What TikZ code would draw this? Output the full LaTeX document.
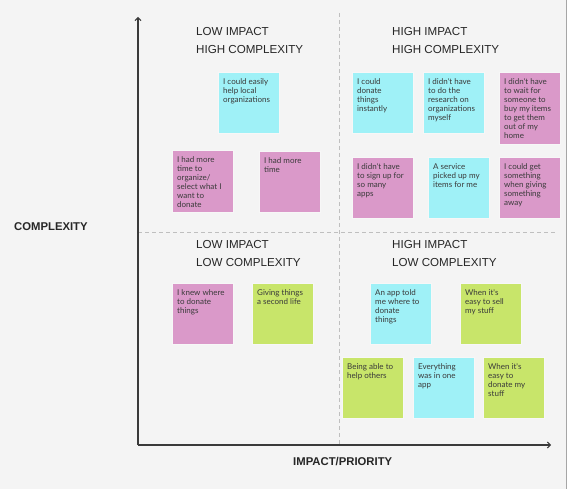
\documentclass[tikz,border=0pt]{standalone}
\usepackage{fontspec}
\setmainfont{Liberation Sans}
\newfontfamily\notefont{Lato}
\usetikzlibrary{arrows.meta}

\definecolor{bgcol}{HTML}{F4F4F4}
\definecolor{notecyan}{HTML}{9FF1F7}
\definecolor{notepink}{HTML}{DA99C9}
\definecolor{notegreen}{HTML}{C8E56A}
\definecolor{inkcol}{HTML}{3A3A3A}

% one sticky note: name, colour, top left corner, height, text
\newcommand{\sticky}[5]{%
  \node[note, fill=#2, minimum height=#4] (#1) at (#3) {};
  \node[notetext] (#1-t) at ([xshift=5pt,yshift=-6pt]#1.north west) {#5};}

\begin{document}
\begin{tikzpicture}[x=1pt,y=-1pt]
\tikzset{
  note/.style={anchor=north west, minimum width=61pt, inner sep=0pt, draw=white!60!black!8, line width=0.4pt},
  notetext/.style={anchor=north west, inner sep=0pt, align=left, text=inkcol,
    font=\notefont\fontsize{8}{9}\selectfont},
  quadrant/.style={anchor=west, inner sep=0pt, text=black!85, font=\fontsize{11.6}{12}\selectfont},
  axislabel/.style={inner sep=0pt, text=black!85, font=\bfseries\fontsize{11.3}{12}\selectfont},
  axis/.style={draw=inkcol, line width=1.3pt, -{Straight Barb[length=3pt,width=6pt,line width=1pt]}},
  divider/.style={draw=black!25, line width=0.8pt, dash pattern=on 4pt off 3pt}
}
\useasboundingbox (0,0) rectangle (572,489);
\fill[white] (0,0) rectangle (572,489);
\fill[bgcol] (0,0) rectangle (566,489);
\draw[black!35, line width=0.8pt] (566,0) -- (566,489);

% axes and dividers
\coordinate (origin) at (138,445);
\coordinate (ytop) at (138,17);
\coordinate (xend) at (551,445);
\coordinate (vtop) at (339,13);
\coordinate (vbot) at (339,445);
\coordinate (hleft) at (138,232);
\coordinate (hright) at (557,232);
\draw[divider] (vtop) -- (vbot);
\draw[divider] (hleft) -- (hright);
\draw[axis] (origin) -- (ytop);
\draw[axis] (origin) -- (xend);

\node[axislabel, anchor=west] (ylab) at (14,227) {COMPLEXITY};
\node[axislabel, anchor=west] (xlab) at (293,462) {IMPACT/PRIORITY};

% quadrant headings
\node[quadrant] (lh1) at (196,32) {LOW IMPACT};
\node[quadrant] (lh2) at (196,50) {HIGH COMPLEXITY};
\node[quadrant] (hh1) at (392,32) {HIGH IMPACT};
\node[quadrant] (hh2) at (392,50) {HIGH COMPLEXITY};
\node[quadrant] (ll1) at (196,245) {LOW IMPACT};
\node[quadrant] (ll2) at (196,263) {LOW COMPLEXITY};
\node[quadrant] (hl1) at (392,245) {HIGH IMPACT};
\node[quadrant] (hl2) at (392,263) {LOW COMPLEXITY};

% low impact, high complexity
\sticky{lhA}{notecyan}{218,72}{61pt}{I could easily\\help local\\organizations}
\sticky{lhB}{notepink}{172,150}{62pt}{I had more\\time to\\organize/\\select what I\\want to\\donate}
\sticky{lhC}{notepink}{259,151}{61pt}{I had more\\time}

% high impact, high complexity
\sticky{hhA}{notecyan}{352,72}{61pt}{I could\\donate\\things\\instantly}
\sticky{hhB}{notecyan}{423,72}{61pt}{I didn't have\\to do the\\research on\\organizations\\myself}
\sticky{hhC}{notepink}{499,72}{72pt}{I didn't have\\to wait for\\someone to\\buy my items\\to get them\\out of my\\home}
\sticky{hhD}{notepink}{352,157}{61pt}{I didn't have\\to sign up for\\so many\\apps}
\sticky{hhE}{notecyan}{428,157}{61pt}{A service\\picked up my\\items for me}
\sticky{hhF}{notepink}{499,157}{61pt}{I could get\\something\\when giving\\something\\away}

% low impact, low complexity
\sticky{llA}{notepink}{172,283}{61pt}{I knew where\\to donate\\things}
\sticky{llB}{notegreen}{252,283}{61pt}{Giving things\\a second life}

% high impact, low complexity
\sticky{hlA}{notecyan}{370,283}{61pt}{An app told\\me where to\\donate\\things}
\sticky{hlB}{notegreen}{460,283}{61pt}{When it's\\easy to sell\\my stuff}
\sticky{hlC}{notegreen}{342,357}{61pt}{Being able to\\help others}
\sticky{hlD}{notecyan}{413,357}{61pt}{Everything\\was in one\\app}
\sticky{hlE}{notegreen}{483,357}{61pt}{When it's\\easy to\\donate my\\stuff}
\end{tikzpicture}
\end{document}
